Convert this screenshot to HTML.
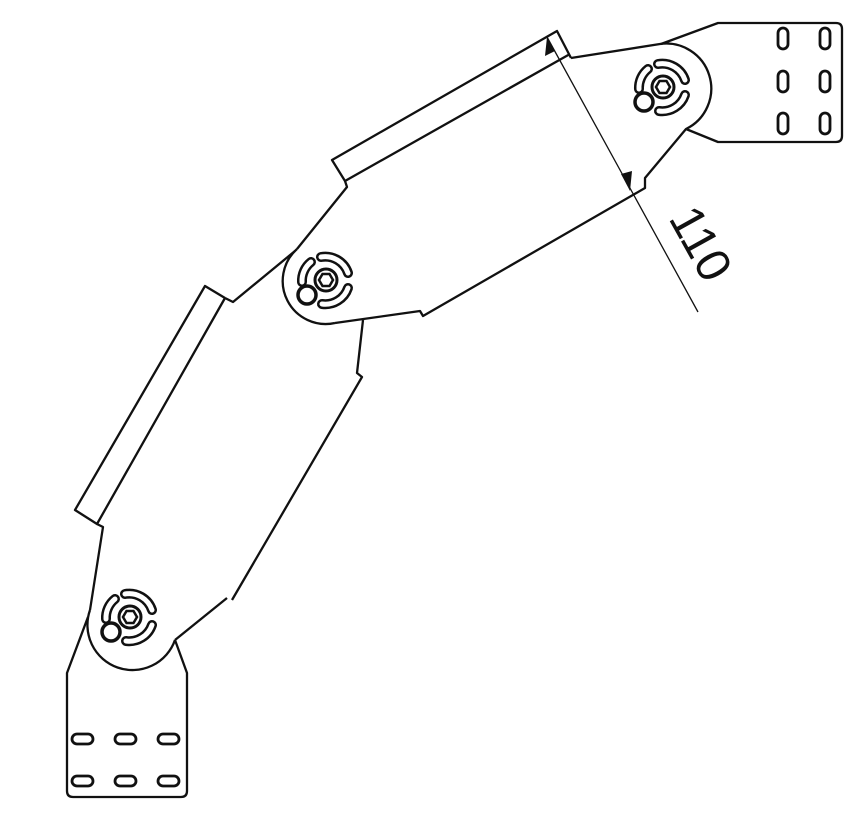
<!DOCTYPE html>
<html><head><style>html,body{margin:0;padding:0;background:#fff}svg{display:block}</style></head>
<body>
<svg width="867" height="817" viewBox="0 0 867 817" xmlns="http://www.w3.org/2000/svg">
<defs>
<g id="pv">
  <g fill="none" stroke="#111" stroke-width="10" stroke-linecap="round">
    <path d="M-5,-23 A24,24 0 0 1 22,-7"/>
    <path d="M22,8 A24,24 0 0 1 -4,24"/>
    <path d="M-15,-18 A24,24 0 0 0 -24,2"/>
  </g>
  <g fill="none" stroke="#fff" stroke-width="5" stroke-linecap="round">
    <path d="M-5,-23 A24,24 0 0 1 22,-7"/>
    <path d="M22,8 A24,24 0 0 1 -4,24"/>
    <path d="M-15,-18 A24,24 0 0 0 -24,2"/>
  </g>
  <circle cx="0" cy="0" r="11" fill="#fff" stroke="#111" stroke-width="3"/>
  <polygon points="7,0 3.5,6 -3.5,6 -7,0 -3.5,-6 3.5,-6" fill="none" stroke="#111" stroke-width="2.5"/>
  <circle cx="-19" cy="15" r="9" fill="#fff" stroke="#111" stroke-width="3.5"/>
</g>
</defs>
<g fill="none" stroke="#111" stroke-width="2.3" stroke-linejoin="round">
  <path d="M661,44 L718,23 L836,23 Q842,23 842,29 L842,136 Q842,142 836,142 L718,142 L686,129"/>
  <path d="M571,58 L660,44 A45,45 0 0 1 686,129 L645,178 L645,188 L423,316 L420,311 L335,323"/>
  <path d="M571,58 L557,31 L332,160 L345,181 L570,54"/>
  <path d="M345,181 L347,187 L297,249"/>
  <path d="M297,249 A43,43 0 0 0 335,323"/>
  <path d="M295,251 L233,302 L225,298"/>
  <path d="M225,298 L205,286 L75,510 L97,524 L225,298"/>
  <path d="M97,524 L103,527 L90,610"/>
  <path d="M363,320 L357,373 L362,377 L232,600"/>
  <path d="M227,598 L175,640"/>
  <path d="M90,610 A43,43 0 0 0 175,640"/>
  <path d="M88,617 L67,673 L67,791 Q67,797 73,797 L181,797 Q187,797 187,791 L187,673 L175,640"/>
</g>
<g fill="none" stroke="#111" stroke-width="2.8">
  <rect x="778" y="28" width="10" height="21" rx="5"/>
  <rect x="820" y="28" width="10" height="21" rx="5"/>
  <rect x="778" y="71" width="10" height="21" rx="5"/>
  <rect x="820" y="71" width="10" height="21" rx="5"/>
  <rect x="778" y="113" width="10" height="21" rx="5"/>
  <rect x="820" y="113" width="10" height="21" rx="5"/>
  <rect x="72" y="734" width="21" height="10" rx="5"/>
  <rect x="115" y="734" width="21" height="10" rx="5"/>
  <rect x="158" y="734" width="21" height="10" rx="5"/>
  <rect x="72" y="776" width="21" height="10" rx="5"/>
  <rect x="115" y="776" width="21" height="10" rx="5"/>
  <rect x="158" y="776" width="21" height="10" rx="5"/>
</g>
<use href="#pv" transform="translate(663,87)"/>
<use href="#pv" transform="translate(326,280)"/>
<use href="#pv" transform="translate(130,617)"/>
<line x1="547" y1="37" x2="698" y2="312" stroke="#111" stroke-width="1.3"/>
<polygon points="547,37 545,56 555,51" fill="#111"/>
<polygon points="630,191 621,174 632,171" fill="#111"/>
<text x="0" y="0" transform="translate(668,218) rotate(61)" style="font-family:'Liberation Sans',sans-serif;font-size:48px" fill="#111">110</text>
</svg>
</body></html>
